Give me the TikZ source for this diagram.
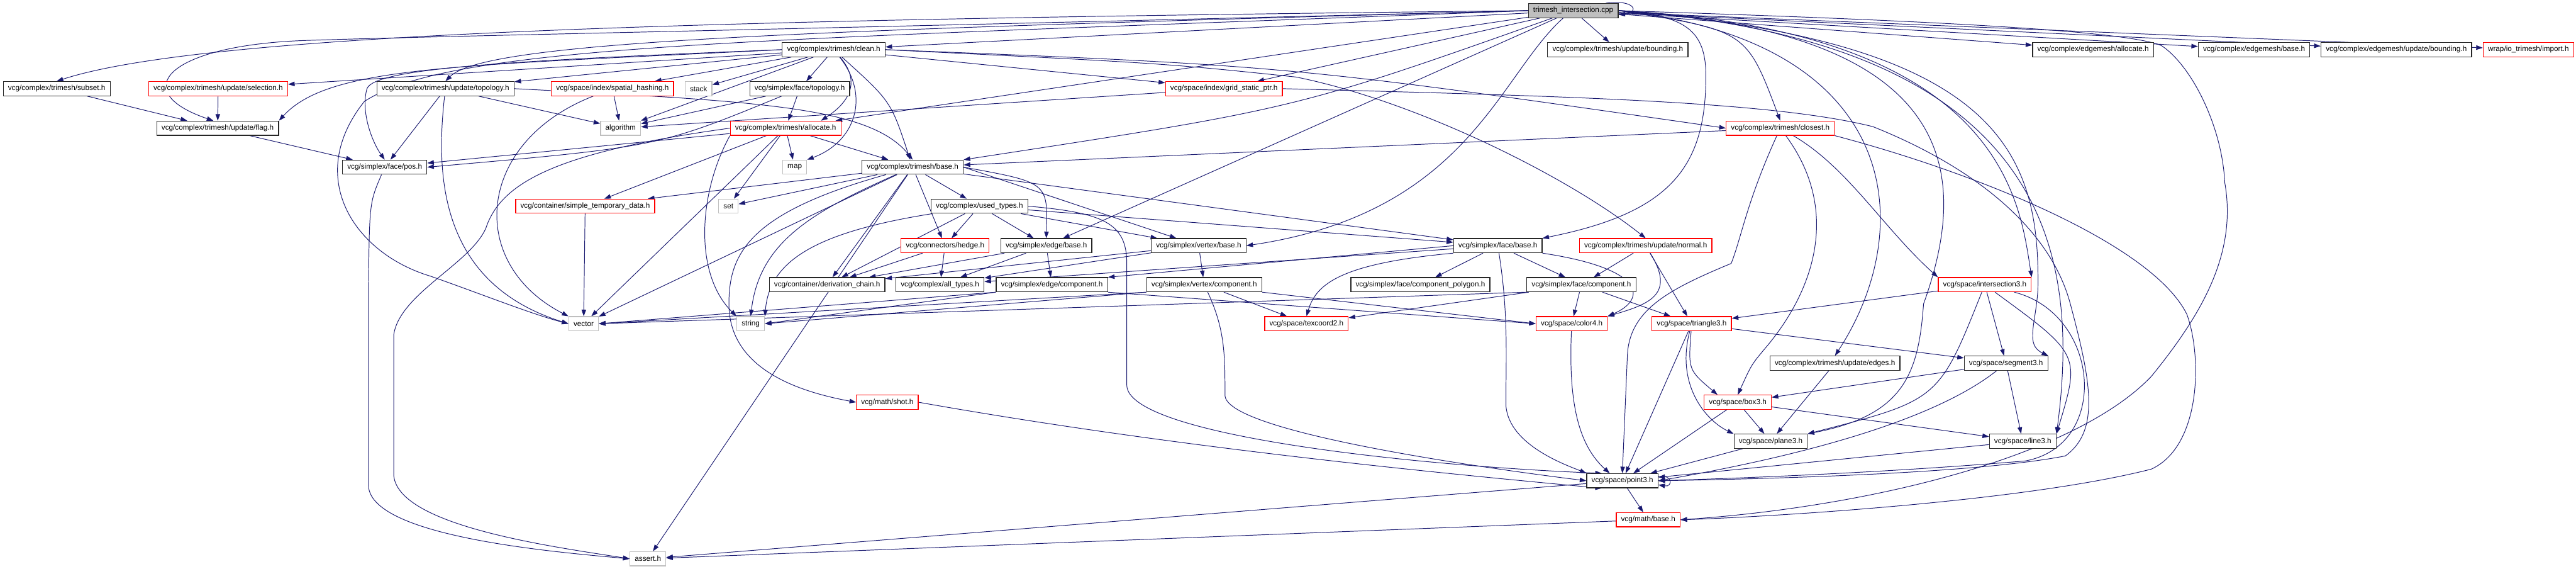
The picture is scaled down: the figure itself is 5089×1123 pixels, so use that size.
\documentclass[tikz,border=0pt]{standalone}
\usepackage{fontspec}
\setmainfont{Liberation Sans}
\usetikzlibrary{arrows.meta,backgrounds}
\definecolor{edgec}{HTML}{191970}
\definecolor{grayb}{HTML}{BFBFBF}
\definecolor{redb}{HTML}{FF0000}
\begin{document}
\begin{tikzpicture}[x=1pt,y=-1pt,
  box/.style={draw, rectangle, line width=1.5pt, minimum height=28pt, inner xsep=9.5pt, inner ysep=0pt, font=\fontsize{14.6}{17}\selectfont, fill=white},
  nb/.style={box, draw=black!85},
  nr/.style={box, draw=redb},
  ng/.style={box, draw=grayb},
  dep/.style={draw=edgec, line width=1.2pt, -{Triangle[length=13pt,width=9pt]}}]
\useasboundingbox (0,0) rectangle (5089,1123);
% nodes
\node[nb, fill=grayb] (cpp) at (3108,21) {trimesh\_intersection.cpp};
\node[nb] (clean) at (1647,98) {vcg/complex/trimesh/clean.h};
\node[nb] (upbounding) at (3196,98) {vcg/complex/trimesh/update/bounding.h};
\node[nb] (emalloc) at (4135,98) {vcg/complex/edgemesh/allocate.h};
\node[nb] (embase) at (4453,98) {vcg/complex/edgemesh/base.h};
\node[nb] (emupbounding) at (4734,98) {vcg/complex/edgemesh/update/bounding.h};
\node[nr] (import) at (4995,98) {wrap/io\_trimesh/import.h};
\node[nb] (subset) at (112,175) {vcg/complex/trimesh/subset.h};
\node[nr] (selection) at (431,175) {vcg/complex/trimesh/update/selection.h};
\node[nb] (uptopology) at (880,175) {vcg/complex/trimesh/update/topology.h};
\node[nr] (spatialhash) at (1210,175) {vcg/space/index/spatial\_hashing.h};
\node[ng] (stack) at (1380,175) {stack};
\node[nb] (facetopology) at (1580,175) {vcg/simplex/face/topology.h};
\node[nr] (gridstatic) at (2418,175) {vcg/space/index/grid\_static\_ptr.h};
\node[nb] (flag) at (430,253) {vcg/complex/trimesh/update/flag.h};
\node[ng] (algorithm) at (1226,253) {algorithm};
\node[nr] (allocate) at (1552,253) {vcg/complex/trimesh/allocate.h};
\node[nr] (closest) at (3517,253) {vcg/complex/trimesh/closest.h};
\node[nb] (facepos) at (760,330) {vcg/simplex/face/pos.h};
\node[ng] (map) at (1570,330) {map};
\node[nb] (tribase) at (1803,330) {vcg/complex/trimesh/base.h};
\node[nr] (simpletemp) at (1156,407) {vcg/container/simple\_temporary\_data.h};
\node[ng] (set) at (1439,407) {set};
\node[nb] (usedtypes) at (1935,407) {vcg/complex/used\_types.h};
\node[nr] (hedge) at (1867,485) {vcg/connectors/hedge.h};
\node[nb] (edgebase) at (2067,485) {vcg/simplex/edge/base.h};
\node[nb] (vertexbase) at (2368,485) {vcg/simplex/vertex/base.h};
\node[nb] (facebase) at (2959,485) {vcg/simplex/face/base.h};
\node[nr] (normal) at (3251,485) {vcg/complex/trimesh/update/normal.h};
\node[nb] (derivation) at (1634,562) {vcg/container/derivation\_chain.h};
\node[nb] (alltypes) at (1857,562) {vcg/complex/all\_types.h};
\node[nb] (edgecomp) at (2078,562) {vcg/simplex/edge/component.h};
\node[nb] (vertexcomp) at (2379,562) {vcg/simplex/vertex/component.h};
\node[nb] (compolygon) at (2806,562) {vcg/simplex/face/component\_polygon.h};
\node[nb] (facecomp) at (3124,562) {vcg/simplex/face/component.h};
\node[nr] (intersection) at (3921,562) {vcg/space/intersection3.h};
\node[ng] (vector) at (1153,639) {vector};
\node[ng] (string) at (1483,639) {string};
\node[nr] (texcoord) at (2581,639) {vcg/space/texcoord2.h};
\node[nr] (color) at (3105,639) {vcg/space/color4.h};
\node[nr] (triangle) at (3342,639) {vcg/space/triangle3.h};
\node[nb] (edges) at (3625,717) {vcg/complex/trimesh/update/edges.h};
\node[nb] (segment) at (3963,717) {vcg/space/segment3.h};
\node[nr] (shot) at (1753,794) {vcg/math/shot.h};
\node[nr] (box3) at (3433,794) {vcg/space/box3.h};
\node[nb] (plane) at (3498,871) {vcg/space/plane3.h};
\node[nb] (line3) at (3996,871) {vcg/space/line3.h};
\node[nb] (point) at (3205,949) {vcg/space/point3.h};
\node[nr] (mathbase) at (3256,1026) {vcg/math/base.h};
\node[ng] (assert) at (1280,1103) {assert.h};
\begin{pgfonlayer}{background}
% cpp
\draw[dep] (cpp) -- (clean);
\draw[dep] (cpp) -- (upbounding);
\draw[dep] (cpp) -- (emalloc);
\draw[dep] (cpp) -- (embase);
\draw[dep] (cpp) -- (emupbounding);
\draw[dep] (cpp) -- (import);
\draw[dep] (cpp.west) .. controls (1500,38) and (420,60) .. (subset.north);
\draw[dep] (cpp.west) .. controls (1500,60) and (900,70) .. (600,80) .. controls (330,90) and (250,180) .. (flag.120);
\draw[dep] (cpp.west) .. controls (1600,60) and (960,80) .. (uptopology.north);
\draw[dep] (cpp.west) .. controls (1500,80) and (900,85) .. (720,200) .. controls (600,350) and (700,500) .. (850,545) .. controls (950,580) and (1050,620) .. (vector.west);
\draw[dep] (cpp) -- (gridstatic);
\draw[dep] (cpp) -- (allocate);
\draw[dep] (cpp) .. controls (2560,215) .. (tribase.north east);
\draw[dep] (cpp.east) .. controls (3450,60) .. (closest.north);
\draw[dep] (cpp) -- (edgebase);
\draw[dep] ([xshift=-20pt]cpp.south) .. controls (2960,150) and (2900,420) .. (vertexbase.east);
\draw[dep] (cpp.east) .. controls (3330,30) and (3370,60) .. (3370,150) .. controls (3370,330) and (3300,420) .. (facebase.north east);
\draw[dep] (cpp.east) .. controls (3960,60) and (3990,400) .. (intersection.north east);
\draw[dep] (cpp.east) .. controls (3760,80) and (3790,450) .. (edges.north);
\draw[dep] (cpp.east) .. controls (3880,60) and (3890,350) .. (3800,600) .. controls (3790,740) and (3760,820) .. (plane.north east);
\draw[dep] (cpp.east) .. controls (3950,80) and (4030,300) .. (4026,570) .. controls (4022,640) and (4000,680) .. (segment.north east);
\draw[dep] (cpp.east) .. controls (4050,80) and (4110,500) .. (line3.north east);
\draw[dep] (cpp.east) .. controls (3800,40) and (4200,60) .. (4270,90) .. controls (4330,130) and (4390,250) .. (4395,360) .. controls (4420,500) and (4350,620) .. (4250,743) .. controls (4100,900) and (3700,1000) .. (mathbase.east);
\draw[dep] ([xshift=-25pt]cpp.north east) .. controls (3230,-2) and (3240,25) .. ([yshift=-8pt]cpp.east);
% clean
\draw[dep] (clean) -- (selection);
\draw[dep] (clean.west) .. controls (900,130) and (650,130) .. (flag.north east);
\draw[dep] (clean.west) .. controls (1000,120) and (740,135) .. (725,175) .. controls (712,220) and (735,280) .. (facepos.north);
\draw[dep] (clean) -- (uptopology);
\draw[dep] (clean) -- (spatialhash);
\draw[dep] (clean) -- (stack);
\draw[dep] (clean) -- (facetopology);
\draw[dep] (clean) -- (algorithm);
\draw[dep] (clean) .. controls (1700,160) and (1680,200) .. ([xshift=70pt]allocate.north);
\draw[dep] (clean) .. controls (1720,190) and (1690,280) .. (map.north east);
\draw[dep] (clean) .. controls (1760,200) .. (tribase);
\draw[dep] (clean) -- (gridstatic);
\draw[dep] (clean.east) .. controls (2550,130) .. (closest.west);
\draw[dep] (clean.east) .. controls (2300,125) .. (2560,152) .. controls (2800,200) and (3100,350) .. (normal.north);
% misc upper
\draw[dep] (subset) -- (flag);
\draw[dep] (selection) -- (flag);
\draw[dep] (flag) -- (facepos);
\draw[dep] (uptopology) -- (facepos);
\draw[dep] (uptopology) -- (algorithm);
\draw[dep] (uptopology.east) .. controls (1500,200) and (1720,210) .. (tribase.north);
\draw[dep] (uptopology) .. controls (860,350) and (870,560) .. (vector.west);
\draw[dep] (spatialhash) -- (algorithm);
\draw[dep] (spatialhash) .. controls (940,280) and (920,520) .. (vector.north west);
\draw[dep] (facetopology) -- (algorithm);
\draw[dep] (facetopology) -- (allocate);
\draw[dep] (facetopology) .. controls (1300,290) .. (facepos.east);
\draw[dep] (gridstatic) -- (algorithm);
\draw[dep] (gridstatic.east) .. controls (3100,190) and (3500,200) .. (3700,250) .. controls (3900,330) and (4050,450) .. (4090,600) .. controls (4130,750) and (4150,850) .. (4080,900) .. controls (3900,935) and (3500,945) .. (point.east);
% allocate
\draw[dep] (allocate) -- (map);
\draw[dep] (allocate) -- (set);
\draw[dep] (allocate) -- (simpletemp);
\draw[dep] (allocate) -- (vector);
\draw[dep] (allocate) -- (tribase);
\draw[dep] (allocate) -- (facepos);
\draw[dep] (allocate.south west) .. controls (1380,380) and (1370,540) .. (string.north west);
\draw[dep] (allocate.west) .. controls (1100,300) and (990,360) .. (960,450) .. controls (930,520) and (790,580) .. (778,660) -- (778,940) .. controls (790,1040) and (1100,1080) .. (assert.west);
% closest
\draw[dep] (closest) -- (tribase);
\draw[dep] (closest) .. controls (3650,330) and (3720,450) .. (intersection.north west);
\draw[dep] (closest) .. controls (3640,420) and (3580,580) .. (3485,690) .. controls (3460,720) .. (box3.north);
\draw[dep] (closest) .. controls (3450,400) and (3440,470) .. (3420,520) .. controls (3300,570) and (3220,610) .. (3215,700) -- (point.north);
\draw[dep] (closest.south east) .. controls (3900,340) and (4250,480) .. (4320,620) .. controls (4350,700) and (4350,880) .. (4250,926) .. controls (4000,990) and (3500,1020) .. (mathbase.east);
% tribase
\draw[dep] (tribase) -- (usedtypes);
\draw[dep] (tribase) -- (hedge);
\draw[dep] (tribase.east) .. controls (2070,360) .. (edgebase.north);
\draw[dep] (tribase.east) -- (vertexbase);
\draw[dep] (tribase) -- (facebase);
\draw[dep] (tribase) -- (simpletemp);
\draw[dep] (tribase) -- (set);
\draw[dep] (tribase) -- (vector);
\draw[dep] (tribase) .. controls (1600,420) and (1500,480) .. (string.north);
\draw[dep] (tribase) -- (assert);
\draw[dep] (tribase) -- (derivation);
\draw[dep] (tribase) .. controls (1480,420) and (1440,500) .. (1440,600) .. controls (1440,720) and (1560,770) .. (shot.west);
% used types
\draw[dep] (usedtypes) -- (hedge);
\draw[dep] (usedtypes) -- (edgebase);
\draw[dep] (usedtypes) -- (vertexbase);
\draw[dep] (usedtypes) -- (facebase);
\draw[dep] (usedtypes) -- (derivation);
\draw[dep] (usedtypes) .. controls (1600,460) and (1520,520) .. (string.north east);
\draw[dep] (usedtypes.east) .. controls (2180,420) and (2226,440) .. (2226,520) -- (2226,760) .. controls (2226,860) and (2800,920) .. (point.160);
% base level
\draw[dep] (hedge) -- (alltypes);
\draw[dep] (hedge) -- (derivation);
\draw[dep] (edgebase) -- (derivation);
\draw[dep] (edgebase) -- (alltypes);
\draw[dep] (edgebase) -- (edgecomp);
\draw[dep] (vertexbase) -- (derivation);
\draw[dep] (vertexbase) -- (alltypes);
\draw[dep] (vertexbase) -- (vertexcomp);
\draw[dep] (facebase) -- (alltypes);
\draw[dep] (facebase.west) -- (edgecomp.north east);
\draw[dep] (facebase) -- (compolygon);
\draw[dep] (facebase) -- (facecomp);
\draw[dep] (facebase.south west) .. controls (2650,520) and (2600,560) .. (texcoord.north);
\draw[dep] (facebase.south east) .. controls (3250,530) and (3255,590) .. (color.north east);
\draw[dep] (facebase) .. controls (2980,620) and (2975,700) .. (2975,800) .. controls (2980,880) and (3100,920) .. (point.north west);
\draw[dep] (normal) -- (facecomp);
\draw[dep] (normal) .. controls (3310,580) and (3260,600) .. (color.north east);
\draw[dep] (normal) -- (triangle);
% components
\draw[dep] (edgecomp.south west) -- (vector.east);
\draw[dep] (edgecomp.south west) -- (string.east);
\draw[dep] (edgecomp.south east) -- (color.west);
\draw[dep] (vertexcomp.south west) -- (vector.east);
\draw[dep] (vertexcomp.south west) -- (string.east);
\draw[dep] (vertexcomp) -- (texcoord);
\draw[dep] (vertexcomp.south east) -- (color.west);
\draw[dep] (vertexcomp) .. controls (2420,650) and (2420,700) .. (2420,780) .. controls (2420,850) and (2900,920) .. (point.west);
\draw[dep] (facecomp.south west) -- (vector.east);
\draw[dep] (facecomp) -- (texcoord);
\draw[dep] (facecomp) -- (color);
\draw[dep] (facecomp) -- (triangle);
% space
\draw[dep] (intersection) -- (triangle);
\draw[dep] (intersection) -- (segment);
\draw[dep] (intersection) .. controls (3830,790) .. (plane.north east);
\draw[dep] (intersection) .. controls (4110,700) .. (line3.north east);
\draw[dep] (intersection) .. controls (4150,620) and (4170,880) .. (4000,910) .. controls (3700,935) and (3400,945) .. (point.east);
\draw[dep] (triangle) -- (segment);
\draw[dep] (triangle) .. controls (3335,730) .. ([xshift=-40pt]box3.north);
\draw[dep] (triangle) .. controls (3310,760) and (3370,830) .. (plane.north west);
\draw[dep] (triangle) -- (point);
\draw[dep] (edges) -- (plane);
\draw[dep] (segment) -- (box3);
\draw[dep] (segment) -- (line3);
\draw[dep] (segment) .. controls (3820,830) and (3560,900) .. (point.east);
\draw[dep] (box3) -- (plane);
\draw[dep] (box3) -- (line3);
\draw[dep] (box3) -- (point);
\draw[dep] (plane) -- (point);
\draw[dep] (line3) -- (point);
\draw[dep] (shot.east) .. controls (2300,880) and (2800,930) .. (point.200);
\draw[dep] (color) .. controls (3098,800) and (3120,880) .. ([xshift=-25pt]point.north);
\draw[dep] ([yshift=8pt]point.east) .. controls (3305,935) and (3305,962) .. ([yshift=-8pt]point.east);
\draw[dep] (point) -- (mathbase);
\draw[dep] (point) -- (assert);
\draw[dep] (mathbase) -- (assert);
\draw[dep] (simpletemp) -- (vector);
\draw[dep] (facepos) .. controls (730,400) .. (728,560) -- (728,960) .. controls (735,1060) and (1100,1090) .. (assert.west);
\end{pgfonlayer}
\end{tikzpicture}
\end{document}
